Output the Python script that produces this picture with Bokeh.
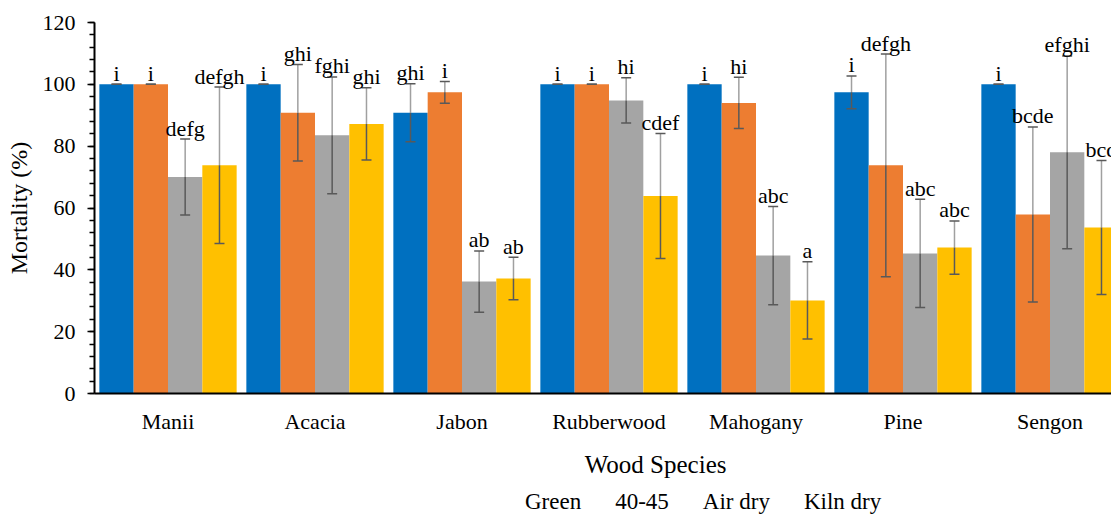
from bokeh.plotting import figure
from bokeh.layouts import column
from bokeh.models import Range1d, FixedTicker, Legend, LegendItem, ColumnDataSource
from bokeh.core.properties import value
from bokeh.embed import file_html
from bokeh.resources import INLINE

species = ["Manii", "Acacia", "Jabon", "Rubberwood", "Mahogany", "Pine", "Sengon"]
series = ["Green", "40-45", "Air dry", "Kiln dry"]
colors = ["#0070C0", "#ED7D31", "#A5A5A5", "#FFC000"]
x_title = "Wood Species"

green = [100, 100, 90.8, 100, 100, 97.4, 100]
green_err = [0, 0, 9.4, 0, 0, 5.3, 0]
green_lbl = ["i", "i", "ghi", "i", "i", "i", "i"]

mid = [100, 90.8, 97.4, 100, 94.0, 73.8, 57.9]
mid_err = [0, 15.6, 3.5, 0, 8.3, 36.0, 28.3]
mid_lbl = ["i", "ghi", "i", "i", "hi", "defgh", "bcde"]

air = [70.0, 83.5, 36.2, 94.8, 44.6, 45.3, 78.0]
air_err = [12.3, 18.9, 9.9, 7.3, 15.9, 17.5, 31.2]
air_lbl = ["defg", "fghi", "ab", "hi", "abc", "abc", "efghi"]

kiln = [73.8, 87.2, 37.2, 63.9, 30.1, 47.2, 53.7]
kiln_err = [25.3, 11.7, 6.9, 20.2, 12.5, 8.6, 21.7]
kiln_lbl = ["defgh", "ghi", "ab", "cdef", "a", "abc", "bcd"]

values = [green, mid, air, kiln]
errors = [green_err, mid_err, air_err, kiln_err]
labels = [green_lbl, mid_lbl, air_lbl, kiln_lbl]

FONT = "Liberation Serif"
bar_w = 0.2335

p = figure(frame_width=1017, frame_height=371, output_backend="svg", toolbar_location=None,
           x_range=Range1d(0, 1017 / 147), y_range=Range1d(0, 120),
           min_border_left=94, min_border_right=0, min_border_top=22, min_border_bottom=60)
p.xgrid.visible = False
p.ygrid.visible = False
p.outline_line_color = None

for i, (vals, errs, lbls, col) in enumerate(zip(values, errors, labels, colors)):
    xs = [k + 0.5 + (i - 1.5) * bar_w for k in range(len(species))]
    p.vbar(x=xs, top=vals, width=bar_w, color=col, line_color=None)
    hi = [v + e for v, e in zip(vals, errs)]
    lo = [v - e for v, e in zip(vals, errs)]
    p.segment(x0=xs, y0=vals, x1=xs, y1=hi, line_color="#a0a0a0", line_width=1.5)
    p.segment(x0=xs, y0=lo, x1=xs, y1=vals, line_color="#595959", line_width=1.5)
    cw = 0.034
    p.segment(x0=[x - cw for x in xs], y0=hi, x1=[x + cw for x in xs], y1=hi,
              line_color="#595959", line_width=1.5)
    p.segment(x0=[x - cw for x in xs], y0=lo, x1=[x + cw for x in xs], y1=lo,
              line_color="#595959", line_width=1.5)
    src = ColumnDataSource(dict(x=xs, y=hi, t=lbls))
    p.text(x="x", y="y", text="t", source=src, text_align="center", text_baseline="alphabetic",
           y_offset=-11, text_font_size="22px", text_color="#000000", text_font=value(FONT))

# y axis
p.yaxis.ticker = FixedTicker(ticks=list(range(0, 121, 20)), minor_ticks=list(range(0, 121, 4)))
p.yaxis.axis_label = "Mortality (%)"
p.yaxis.axis_label_text_font = FONT
p.yaxis.axis_label_text_font_style = "normal"
p.yaxis.axis_label_text_font_size = "24px"
p.yaxis.axis_label_text_color = "#000000"
p.yaxis.axis_label_standoff = 8
p.yaxis.major_label_text_font = FONT
p.yaxis.major_label_text_font_size = "22px"
p.yaxis.major_label_text_color = "#000000"
p.yaxis.major_label_standoff = 12
p.yaxis.axis_line_color = "black"
p.yaxis.axis_line_width = 2
p.yaxis.major_tick_line_color = "black"
p.yaxis.major_tick_line_width = 1.5
p.yaxis.major_tick_out = 7
p.yaxis.major_tick_in = 0
p.yaxis.minor_tick_line_color = "black"
p.yaxis.minor_tick_line_width = 1.5
p.yaxis.minor_tick_out = 5
p.yaxis.minor_tick_in = 0

# x axis
p.xaxis.ticker = FixedTicker(ticks=[k + 0.5 for k in range(len(species))])
p.xaxis.major_label_overrides = {k + 0.5: s for k, s in enumerate(species)}
p.xaxis.major_label_text_font = FONT
p.xaxis.major_label_text_font_size = "22px"
p.xaxis.major_label_text_color = "#000000"
p.xaxis.major_label_standoff = 9
p.xaxis.major_tick_line_color = None
p.xaxis.minor_tick_line_color = None
p.xaxis.axis_line_color = "black"
p.xaxis.axis_line_width = 2

# strip below: axis title + legend
LH = 519 - (22 + 371 + 60)
lf = figure(width=1111, height=LH, output_backend="svg", toolbar_location=None,
            x_range=Range1d(0, 1111), y_range=Range1d(0, LH),
            min_border=0, x_axis_type=None, y_axis_type=None)
lf.xgrid.visible = False
lf.ygrid.visible = False
lf.outline_line_color = None
lf.text(x=[613], y=[LH - 11], text=[x_title], text_align="center", text_baseline="middle",
        text_font_size="25px", text_color="#000000", text_font=value(FONT))

items = []
for name, col in zip(series, colors):
    r = lf.vbar(x=[], top=[], width=1, color=col, line_color=None)
    items.append(LegendItem(label=name, renderers=[r]))

legend = Legend(items=items, orientation="horizontal", location=(414, 4),
                label_text_font=FONT, label_text_font_size="23px", label_text_color="#000000",
                glyph_width=10, glyph_height=10, label_height=14, label_standoff=7, spacing=17,
                border_line_color=None, background_fill_alpha=0, padding=0, margin=0)
lf.add_layout(legend, "center")

layout = column(p, lf, spacing=0)
open("out.html", "w").write(file_html(layout, INLINE))
